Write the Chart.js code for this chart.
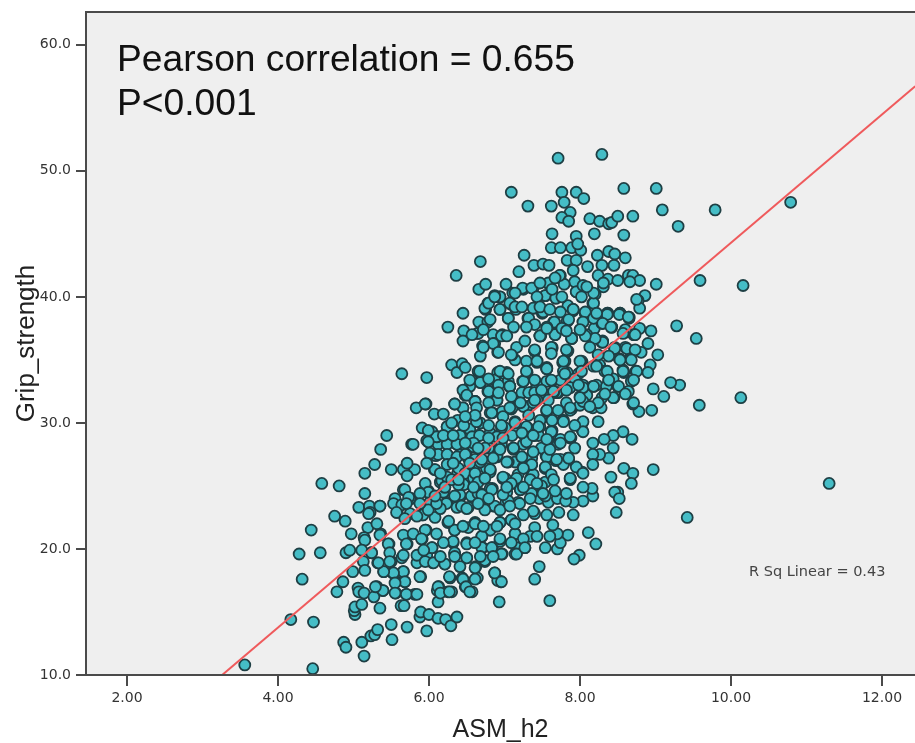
<!DOCTYPE html>
<html>
<head>
<meta charset="utf-8">
<title>Grip strength vs ASM</title>
<script src="https://cdn.jsdelivr.net/npm/chart.js@4/dist/chart.umd.min.js"></script>
<style>
  html, body { margin: 0; padding: 0; background: #fff; }
  #wrap { width: 915px; height: 743px; }
</style>
</head>
<body>
<div id="wrap"><canvas id="scatter"></canvas></div>
<script>
// values, one line of asmH2 goes with the same line of gripStrength
const asmH2 = [
  3.56,4.46,4.17,4.47,4.87,4.90,5.11,5.14,
  5.23,5.28,5.32,5.50,5.51,5.71,5.97,5.88,
  5.89,6.00,6.12,6.22,6.29,6.37,5.02,5.01,
  5.02,5.11,5.35,5.63,5.67,4.78,4.86,4.32,
  5.06,5.07,5.14,5.27,5.31,5.39,5.56,5.70,
  5.81,5.56,5.68,6.12,6.13,6.11,6.25,6.28,
  5.89,4.28,4.56,4.44,4.75,4.89,4.97,4.58,
  4.81,5.15,5.28,5.36,5.44,5.07,5.15,5.21,
  5.22,5.35,5.19,5.14,4.90,4.95,4.99,5.13,
  5.24,5.32,5.40,5.52,5.66,5.47,5.50,5.64,
  5.84,5.97,6.05,6.21,6.32,6.04,5.91,5.71,
  5.96,5.66,5.36,5.58,5.77,5.66,5.55,5.91,
  6.08,6.25,6.34,6.24,5.99,5.50,5.66,5.81,
  5.71,5.71,5.77,5.83,5.96,5.91,6.04,5.97,
  6.07,6.19,5.64,5.97,6.30,6.37,6.44,6.48,
  7.71,8.29,7.09,7.76,7.95,8.05,7.79,7.31,
  7.62,8.58,9.01,9.09,9.30,7.87,7.76,7.85,
  8.13,8.26,8.38,8.42,8.50,8.70,8.58,8.19,
  7.95,7.63,7.62,7.74,7.89,8.01,7.97,7.26,
  6.68,6.36,6.66,6.75,7.02,7.19,7.39,7.51,
  7.59,7.83,7.95,8.23,8.38,8.46,8.60,8.29,
  8.10,7.91,7.74,8.45,8.24,8.37,8.50,8.64,
  8.70,8.79,8.66,9.01,8.86,8.77,8.79,8.94,
  9.28,7.93,7.79,7.59,7.38,7.25,7.11,6.94,
  6.78,6.75,6.45,6.25,6.46,6.66,6.78,6.64,
  6.85,6.97,6.94,7.09,7.15,7.05,7.31,7.39,
  7.54,7.68,7.95,8.17,7.84,7.91,8.07,7.50,
  7.66,7.84,8.04,8.19,8.29,8.42,8.37,8.53,
  8.65,8.79,8.60,8.72,7.67,7.48,8.09,9.03,
  8.93,8.90,8.97,8.95,8.78,8.70,8.68,8.74,
  8.58,8.66,8.81,8.90,8.50,8.62,8.45,8.29,
  8.17,8.36,8.38,8.52,8.46,8.29,8.26,8.57,
  8.69,8.44,8.32,8.17,8.44,8.38,8.26,8.17,
  8.17,8.97,8.58,8.70,8.41,8.68,8.50,8.46,
  8.52,8.48,8.17,8.16,8.04,8.04,7.91,7.91,
  7.72,8.11,8.21,7.84,7.99,7.92,7.46,7.40,
  7.60,6.93,6.87,6.95,6.91,7.54,7.70,7.74,
  7.70,7.60,7.64,7.40,7.40,7.34,7.43,7.27,
  7.16,7.14,6.97,6.84,6.94,6.70,6.71,6.74,
  6.62,6.64,6.48,6.57,6.44,6.30,6.50,6.34,
  6.50,6.61,6.81,6.94,7.09,7.14,6.52,6.52,
  6.37,6.41,6.56,6.68,6.85,7.02,7.18,6.84,
  7.10,7.21,7.35,7.46,7.47,7.58,7.70,7.81,
  7.67,7.87,8.03,7.95,7.77,7.84,7.68,7.55,
  7.54,7.36,7.26,7.14,6.99,6.81,6.66,6.49,
  6.57,6.38,6.24,6.07,5.99,6.19,6.01,6.15,
  6.34,6.52,6.41,6.24,6.09,5.99,6.12,6.37,
  6.58,6.54,6.41,6.11,6.24,6.65,5.79,6.90,
  6.81,6.94,7.11,7.25,7.38,7.23,7.40,7.58,
  7.74,7.88,8.03,7.63,7.47,7.31,7.16,7.01,
  6.81,6.68,6.84,6.61,6.48,6.34,6.45,6.97,
  7.09,7.30,7.56,7.77,7.89,8.00,8.03,8.24,
  8.17,8.28,8.00,7.87,7.71,7.56,7.38,7.23,
  7.07,6.90,6.78,6.68,6.65,6.91,7.03,7.25,
  7.63,7.56,7.30,7.43,7.14,6.91,7.10,7.16,
  7.40,7.63,7.84,7.77,8.03,7.83,7.96,7.47,
  7.89,6.87,6.71,6.68,6.45,
  10.16,10.13,9.79,10.79,11.30,9.42,9.59,9.54,9.58,9.32,9.20,9.11,
  6.94,6.87,6.74,6.79,7.07,7.14,6.94,7.24,7.36,7.58,
  7.54,7.68,7.95,8.04,8.20,8.31,7.73,7.38,7.51,7.32,
  7.05,7.65,7.83,8.07,7.91,8.18,8.36,8.53,8.65,8.75,
  8.42,8.30,8.30,8.71,8.60,8.09,7.89,7.67,7.47,7.27,
  6.96,6.85,6.65,6.72,6.92,7.09,7.40,7.63,7.83,8.02,
  7.80,7.43,7.29,7.00,7.56,7.78,7.98,8.18,8.33,8.46,
  8.60,8.67,8.75,8.57,8.44,8.22,8.35,8.64,8.04,7.84,
  7.62,7.43,7.24,7.05,6.87,6.68,6.81,7.07,7.32,8.09,
  7.69,5.20,5.35,5.53,5.64,5.75,5.57,5.75,5.92,5.68,
  5.95,5.99,6.17,6.19,6.41,6.23,6.43,6.50,6.65,6.81,
  6.50,6.65,6.98,7.16,7.03,7.20,6.87,6.74,7.05,6.94,
  7.09,7.14,7.25,6.94,6.81,6.70,6.61,6.34,6.26,5.95,
  5.79,5.70,5.90,6.04,6.32,6.50,6.70,6.83,6.96,7.16,
  7.27,5.46,5.48,5.31,5.15,5.35,5.11,5.24,5.66,5.84,
  5.95,6.21,6.34,6.50,6.74,6.61,6.06,5.66,5.53,5.40,
  5.15,5.33,5.48,5.88,5.68,5.55,6.45,6.61,6.27,6.12,
  6.15,6.27,6.49,6.54,6.87,6.96,5.39,5.29,5.55,5.70,
  5.84,6.67,6.68,6.54,6.45,6.50,6.79,6.94,7.07,6.92,
  7.25,7.29,7.56,7.40,7.56,7.74,7.93,8.04,7.87,7.65,
  6.90,6.61,6.79,6.45,6.34,5.95,7.10,7.25,7.56,7.38,
  7.87,8.04,8.04,7.78,7.63,7.47,7.29,7.14,6.98,6.81,
  6.63,6.79,6.96,6.38,6.24,6.41,6.54,6.57,6.67,6.90,
  7.10,7.45,7.62,7.87,8.04,6.10,5.99,6.24,6.37,6.59,
  6.79,6.96,7.12,7.29,7.49,7.71,7.93,6.12,6.24,6.37,
  6.48,6.61,6.90,6.76,7.05,7.25,7.54,7.56,7.36,7.74,
  7.85,6.24,6.39,6.59,6.08,6.24,6.48,6.81,6.46,6.59,
  7.01,7.18,7.38,7.54,7.78,7.87,8.04,6.21,
  7.51,7.66,7.85,7.91,8.07,8.04,8.18,8.36,8.52,8.64,
  8.30,8.41,8.57,8.73,8.30,8.20,8.07,7.89,7.67,7.47,
  7.40,7.56,7.76,7.40,7.62,7.62,7.82,8.13,8.46,8.62,
  8.73,8.53,8.68,8.38,8.24,8.00,7.78,7.56,7.43,7.40,
  7.62,7.80,8.02,8.22,8.36,8.57,8.71,8.51,8.38,8.18,
  7.98,7.82,7.65,7.49,8.00,7.82,8.24,8.44,8.60,8.71,
  8.33,8.13,7.58,7.43,
  6.61,6.92,7.09,6.83,7.07,7.21,7.40,7.56,7.71,7.87,
  6.63,6.96,7.14,7.32,7.45,7.62,7.78,7.93,7.87,7.74,
  7.38,7.23,6.98,6.79,6.59,6.74,6.94,7.12,7.38,7.60,
  7.56,7.85,7.69,7.54,7.36,7.23,7.25,7.03,6.85,6.68,
  6.61,6.81,6.98,7.16,7.34,7.49,7.62,7.87,6.65,6.83,
  7.09,7.21,6.70,6.98,7.54,7.36,
  6.72,6.45,6.15,5.99,5.84,5.73,5.88,6.34,7.34,7.38,
  7.14,6.94,6.74,6.10,5.88,5.70,5.68,7.25,7.07,7.56,
  7.51,7.82,7.65,7.43,7.25,7.03,6.59,6.39,6.21,6.08,
  6.65,6.79,6.90,7.09,6.61,6.19,6.10,5.93,6.15,6.68,
  6.41,6.34,6.85,
  6.87,7.14,7.43,7.63,7.76,8.02,8.18,8.31,8.09,7.47,
  7.67,7.47,7.23,7.74,7.60,8.22,7.29,7.12,6.81,6.72,
  6.57,8.00,7.82,7.56,7.03,
  5.99,6.30,6.46,6.19,6.32,6.48,6.65,6.01,6.32,6.54,
  6.70,5.97,6.15,6.30,6.39,6.74,6.63,6.61,6.48,6.54,
  6.79,7.05
];
const gripStrength = [
  10.8,10.5,14.4,14.2,12.6,12.2,12.6,11.5,
  13.1,13.2,13.6,14.0,12.8,13.8,13.5,14.6,
  15.0,14.8,14.5,14.4,13.9,14.6,14.8,15.1,
  15.4,15.6,15.3,15.5,15.5,16.6,17.4,17.6,
  16.9,16.6,16.5,16.2,17.0,16.7,16.5,16.4,
  16.4,17.4,17.4,15.8,17.0,16.7,16.6,17.7,
  17.8,19.6,19.7,21.5,22.6,22.2,21.2,25.2,
  25.0,26.0,26.7,27.9,29.0,23.3,24.4,23.4,
  22.9,23.4,21.7,20.9,19.7,19.9,18.2,19.0,
  19.7,18.9,18.2,18.1,18.2,20.4,19.0,19.3,
  18.9,19.5,18.9,18.8,20.5,20.1,20.8,20.4,
  21.5,21.1,21.2,22.9,24.0,24.7,24.0,22.7,
  22.5,22.1,21.5,23.7,24.5,26.3,26.3,26.3,
  26.8,25.8,28.3,31.2,31.5,29.6,29.3,28.6,
  30.7,30.7,33.9,33.6,34.6,34.0,34.7,34.4,
  51.0,51.3,48.3,48.3,48.3,47.8,47.5,47.2,
  47.2,48.6,48.6,46.9,45.6,46.7,46.3,46.0,
  46.2,46.0,45.8,45.9,46.4,46.4,44.9,45.0,
  44.8,45.0,43.9,43.9,43.9,43.7,44.2,43.3,
  42.8,41.7,40.6,41.0,41.0,42.0,42.5,42.6,
  42.5,42.9,42.9,43.3,43.6,43.4,43.1,42.5,
  42.4,42.1,41.7,42.5,41.7,41.4,41.3,41.7,
  41.7,41.3,41.2,41.0,40.1,39.7,39.1,37.3,
  37.7,41.2,41.0,41.0,40.7,40.6,40.3,40.0,
  39.5,39.0,38.7,37.6,37.3,38.0,38.0,37.1,
  37.0,37.0,39.0,39.4,39.0,38.3,38.3,39.1,
  40.1,39.9,40.4,39.5,39.3,38.9,38.7,38.7,
  38.0,38.1,38.0,37.5,37.9,37.6,38.7,38.7,
  38.4,37.5,37.2,37.0,37.1,36.9,36.9,35.4,
  34.6,34.0,32.7,31.0,30.9,31.5,33.3,34.1,
  34.0,35.1,35.6,36.3,32.9,32.4,32.0,32.0,
  32.9,34.0,33.3,35.1,36.0,36.4,34.6,29.3,
  28.7,29.0,28.7,28.4,28.0,27.2,27.5,27.5,
  26.7,26.3,26.4,26.0,25.7,25.2,24.5,24.5,
  24.0,22.9,24.2,24.8,24.9,23.8,23.7,22.7,
  22.9,21.3,20.4,21.1,19.5,19.2,18.6,17.6,
  15.9,15.8,18.1,17.4,17.5,20.1,20.0,20.5,
  21.2,21.0,21.9,21.7,22.8,21.0,21.0,20.1,
  20.1,19.6,19.6,20.1,20.6,21.0,20.1,19.0,
  18.6,17.7,17.0,16.6,17.7,16.6,20.5,19.6,
  19.3,22.1,21.5,22.1,22.3,21.2,21.7,23.3,
  23.3,24.1,24.2,24.4,23.4,23.7,23.7,24.8,
  25.2,24.7,25.6,24.0,24.8,23.7,24.0,23.8,
  24.6,25.6,26.1,26.5,26.8,27.2,27.0,27.4,
  26.4,26.7,26.4,26.9,25.6,26.3,25.6,25.2,
  26.4,26.0,25.6,26.3,24.6,24.5,23.7,25.3,
  26.8,27.2,27.5,27.5,27.4,28.5,28.3,28.3,
  28.1,28.9,29.0,28.9,29.7,29.0,28.3,27.3,
  28.3,28.3,28.0,28.3,27.7,27.3,29.0,28.7,
  28.7,28.8,29.4,29.4,29.7,29.6,29.3,29.6,
  29.2,30.0,30.8,31.7,32.2,31.5,31.2,30.9,
  31.1,31.3,31.0,30.2,31.1,31.4,30.0,30.1,
  31.2,31.2,32.1,32.9,32.4,32.2,32.5,32.4,
  32.9,31.8,32.5,33.2,34.1,34.0,34.0,33.3,
  33.3,34.4,34.0,34.8,35.0,35.6,35.4,36.0,
  35.7,36.0,35.7,34.8,34.8,34.0,33.2,36.9,
  36.7,36.3,36.1,35.3,36.5,
  40.9,32.0,46.9,47.5,25.2,22.5,41.3,36.7,31.4,33.0,33.2,32.1,
  40.0,40.1,39.1,39.5,39.5,39.2,39.0,40.7,40.7,41.1,
  40.1,39.9,40.4,40.9,40.2,40.8,41.7,39.1,38.8,38.3,
  38.3,38.0,38.1,38.7,39.0,39.5,38.7,38.7,38.3,39.8,
  37.6,37.9,36.5,37.0,37.4,37.0,36.7,37.0,36.9,36.5,
  36.9,36.3,37.1,36.0,35.6,35.4,35.7,35.9,35.7,34.9,
  34.9,34.9,34.9,33.9,34.3,34.1,33.9,34.5,34.1,35.9,
  36.0,35.1,34.1,34.2,33.5,33.0,32.9,32.5,33.0,33.1,
  33.3,33.0,33.3,33.3,33.4,33.3,32.5,32.9,32.4,32.2,
  32.4,22.8,23.4,23.6,23.5,24.0,22.9,22.8,22.7,24.7,
  25.2,24.5,25.4,24.5,24.3,23.6,23.4,23.2,24.4,24.8,
  25.2,25.5,25.6,25.2,24.5,23.6,23.4,24.0,23.8,22.1,
  22.3,21.2,20.8,20.8,21.5,21.0,22.0,21.5,22.2,21.5,
  21.2,20.4,20.8,20.1,20.6,20.4,20.1,20.1,19.6,19.6,
  20.1,20.4,19.7,22.0,20.7,21.1,19.9,19.7,19.5,19.5,
  19.0,18.8,19.7,19.3,19.1,18.5,18.9,18.2,18.1,18.2,
  18.3,18.9,19.0,17.8,17.4,17.3,17.6,17.6,17.8,17.0,
  16.5,16.6,17.0,16.6,18.1,17.4,16.7,17.0,16.5,16.4,
  16.4,34.1,33.2,32.9,32.6,32.2,32.5,34.1,32.9,33.0,
  33.3,34.1,34.3,32.4,33.3,33.4,33.5,32.8,32.8,32.4,
  31.8,31.7,31.6,31.2,31.5,31.5,31.2,31.3,30.9,31.6,
  31.0,31.7,30.1,30.2,30.2,30.2,29.7,30.1,30.5,30.8,
  30.1,29.8,29.6,30.2,29.7,29.0,29.5,28.9,29.0,28.9,
  29.0,29.0,29.3,28.8,29.3,28.9,28.5,28.3,28.3,28.1,
  28.0,28.3,27.9,28.5,28.0,28.3,28.0,27.5,27.5,27.3,
  27.5,27.1,27.4,26.4,26.9,26.5,26.4,27.3,27.2,27.1,
  27.1,26.7,26.4,26.4,26.3,25.7,26.0,26.1,25.1,25.6,
  25.6,25.9,25.9,25.3,26.7,25.5,26.0,24.9,
  38.8,38.0,38.2,39.0,38.8,38.0,38.3,38.6,38.6,38.4,
  37.9,37.6,37.1,37.0,36.4,36.7,36.9,36.7,37.0,36.9,
  37.8,37.6,37.5,35.8,36.0,35.5,35.8,36.0,35.9,35.9,
  35.8,35.0,35.0,35.3,35.4,34.9,34.9,34.3,34.9,33.4,
  33.4,33.9,34.1,34.5,34.1,34.1,33.4,32.9,33.4,32.9,
  33.0,32.6,32.5,32.6,32.0,31.6,31.6,32.0,32.3,31.6,
  32.3,31.3,31.8,31.8,
  31.7,32.4,32.1,30.8,31.2,31.6,31.8,31.0,31.0,31.2,
  30.1,29.8,30.0,30.6,29.7,29.3,30.1,29.8,28.9,28.4,
  29.0,29.2,28.8,28.8,28.4,28.0,27.9,28.0,27.7,27.9,
  28.7,27.2,27.1,26.5,26.7,27.3,26.4,26.9,27.2,26.9,
  26.0,26.3,25.7,25.6,25.5,25.0,25.9,25.6,25.3,24.7,
  25.2,24.7,24.3,24.3,24.2,24.4,
  21.8,21.8,23.2,23.1,22.6,24.1,24.4,24.2,24.0,23.0,
  22.0,23.1,23.1,23.6,23.6,23.6,22.4,22.7,23.4,22.7,
  24.4,24.4,25.5,25.2,24.9,24.9,24.9,25.1,24.9,24.2,
  23.6,24.0,21.8,20.5,20.5,20.5,21.2,19.9,19.4,19.4,
  18.6,19.4,19.4,
  40.0,40.3,40.0,40.6,40.0,40.0,40.3,41.1,40.8,41.1,
  41.5,39.2,39.2,38.8,39.0,38.7,37.6,37.6,38.2,37.4,
  37.0,37.4,37.3,37.5,36.9,
  29.4,30.0,29.8,29.0,29.0,28.4,28.0,27.6,26.8,26.8,
  27.1,26.8,26.0,25.5,25.5,25.6,31.2,30.6,30.5,33.4,
  33.5,33.9
];
const fitX = [3.26, 12.44];
const fitY = [10, 56.7];
const xTicks = [2, 4, 6, 8, 10, 12];
const yTicks = [10, 20, 30, 40, 50, 60];

// grey plot panel, frame and the text written on the picture
const panelPlugin = {
  id: 'panel',
  beforeDraw(chart) {
    const a = chart.chartArea, c = chart.ctx;
    c.save();
    c.fillStyle = '#efefef';
    c.fillRect(a.left, a.top, a.right - a.left, a.bottom - a.top);
    c.restore();
  },
  afterDraw(chart) {
    const a = chart.chartArea, c = chart.ctx;
    c.save();
    c.strokeStyle = '#4a4a4a';
    c.lineWidth = 2;
    c.strokeRect(a.left, a.top, a.right - a.left + 5, a.bottom - a.top);
    c.fillStyle = '#111';
    c.font = '37.2px "Liberation Sans"';
    c.fillText('Pearson correlation = 0.655', 117, 71);
    c.fillText('P<0.001', 117, 115);
    c.fillStyle = '#444';
    c.font = '14.5px "DejaVu Sans"';
    c.fillText('R Sq Linear = 0.43', 749, 576);
    c.restore();
  }
};

new Chart(document.getElementById('scatter'), {
  type: 'scatter',
  data: {
    datasets: [
      {
        label: 'Linear',
        data: fitX.map((x, i) => ({ x: x, y: fitY[i] })),
        showLine: true,
        borderColor: '#ef5a5c',
        borderWidth: 2,
        pointRadius: 0,
        order: 0
      },
      {
        label: 'Grip_strength',
        data: asmH2.map((x, i) => ({ x: x, y: gripStrength[i] })),
        backgroundColor: '#45bdc6',
        borderColor: '#1e3f44',
        borderWidth: 1.8,
        pointRadius: 5.5,
        order: 1
      }
    ]
  },
  options: {
    responsive: true,
    maintainAspectRatio: false,
    animation: false,
    // autoPadding would keep 7px free on the right for the point radius
    layout: { autoPadding: false, padding: { top: 12, right: 0, left: 0, bottom: 0 } },
    plugins: { legend: { display: false }, tooltip: { enabled: false } },
    scales: {
      x: {
        type: 'linear',
        min: 1.457,
        max: 12.437,
        afterBuildTicks: s => { s.ticks = xTicks.map(v => ({ value: v })); },
        afterFit: s => { s.height = 68; s.paddingLeft = 0; s.paddingRight = 0; },
        grid: { drawOnChartArea: false, color: '#4a4a4a', lineWidth: 2, tickLength: 11 },
        border: { display: false },
        ticks: {
          color: '#333', maxRotation: 0, padding: 4,
          font: { family: 'DejaVu Sans', size: 14 },
          callback: v => v.toFixed(2)
        },
        title: {
          display: true, text: 'ASM_h2', color: '#222', padding: { top: 4, bottom: -2 },
          font: { family: 'Liberation Sans', size: 25 }
        }
      },
      y: {
        type: 'linear',
        min: 10,
        max: 62.6,
        afterBuildTicks: s => { s.ticks = yTicks.map(v => ({ value: v })); },
        afterFit: s => { s.width = 86; s.paddingTop = 0; s.paddingBottom = 0; },
        grid: { drawOnChartArea: false, color: '#4a4a4a', lineWidth: 2, tickLength: 10 },
        border: { display: false },
        ticks: {
          color: '#333', padding: 5,
          font: { family: 'DejaVu Sans', size: 14 },
          callback: v => v.toFixed(1)
        },
        title: {
          display: true, text: 'Grip_strength', color: '#222', padding: { top: 11, bottom: 0 },
          font: { family: 'Liberation Sans', size: 26 }
        }
      }
    }
  },
  plugins: [panelPlugin]
});
</script>
</body>
</html>
